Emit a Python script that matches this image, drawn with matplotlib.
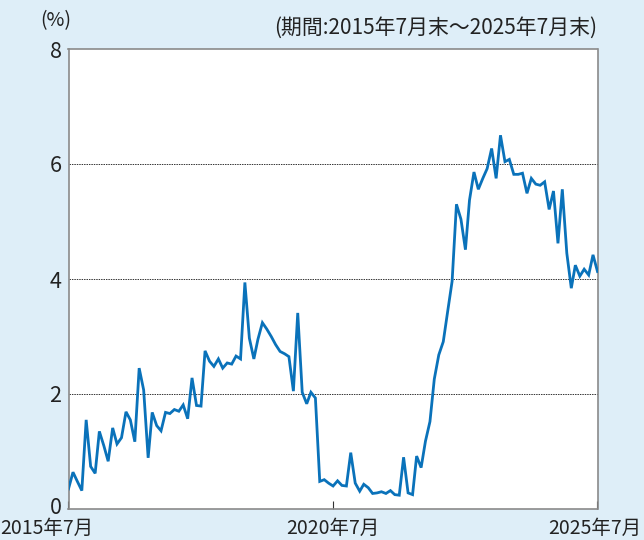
import matplotlib
matplotlib.use("Agg")
import matplotlib.pyplot as plt
import matplotlib.transforms as mtransforms
import pandas as pd

plt.rcParams['font.family'] = ['Noto Sans CJK JP', 'DejaVu Sans']

# Monthly values, 2015-07 .. 2025-07 (%)
values = [
    0.35, 0.64, 0.48, 0.32, 1.55, 0.74, 0.62, 1.35, 1.10, 0.83,
    1.41, 1.13, 1.24, 1.69, 1.55, 1.17, 2.45, 2.07, 0.89, 1.68,
    1.45, 1.36, 1.68, 1.66, 1.73, 1.70, 1.81, 1.57, 2.28, 1.80,
    1.79, 2.75, 2.57, 2.48, 2.61, 2.45, 2.54, 2.52, 2.66, 2.61,
    3.94, 2.97, 2.61, 2.95, 3.24, 3.13, 3.00, 2.86, 2.74, 2.70,
    2.65, 2.05, 3.41, 2.03, 1.83, 2.03, 1.93, 0.48, 0.51, 0.45,
    0.40, 0.49, 0.41, 0.40, 0.98, 0.45, 0.31, 0.43, 0.37, 0.27,
    0.28, 0.30, 0.27, 0.32, 0.25, 0.24, 0.90, 0.28, 0.25, 0.92,
    0.72, 1.18, 1.52, 2.26, 2.68, 2.91, 3.43, 3.96, 5.30, 5.04,
    4.51, 5.37, 5.86, 5.56, 5.75, 5.92, 6.27, 5.75, 6.50, 6.04,
    6.08, 5.82, 5.82, 5.84, 5.49, 5.75, 5.65, 5.63, 5.69, 5.21,
    5.53, 4.62, 5.56, 4.45, 3.84, 4.24, 4.05, 4.17, 4.07, 4.42,
    4.13,
]
dates = pd.date_range("2015-07-31", periods=len(values), freq="ME")

xtick_dates = [pd.Timestamp("2015-07-31"), pd.Timestamp("2020-07-31"), pd.Timestamp("2025-07-31")]
xtick_labels = ["2015年7月", "2020年7月", "2025年7月"]
yticks = [0, 2, 4, 6, 8]
title_note = "(期間:2015年7月末～2025年7月末)"
unit_label = "(%)"

bg = "#deeef8"
line_color = "#0a72ba"
text_color = "#222222"

fig = plt.figure(figsize=(6.44, 5.40), dpi=100, facecolor=bg)
ax = fig.add_axes([68.5 / 644, 31 / 540, 529 / 644, 460 / 540])
ax.set_facecolor("white")

ax.plot(dates, values, color=line_color, linewidth=2.0, solid_joinstyle="miter", zorder=3)

ax.set_xlim(dates[0], dates[-1])
ax.set_ylim(0, 8)
ax.set_yticks(yticks)
ax.set_yticklabels([str(v) for v in yticks], fontsize=15.5, color=text_color)
for y in [2, 4, 6]:
    ax.axhline(y, color="#333333", linewidth=0.7, linestyle=(0, (1.5, 1.0)), zorder=1)

ax.set_xticks(xtick_dates)
ax.set_xticklabels(xtick_labels, fontsize=14, color=text_color)
ax.tick_params(axis="x", direction="in", length=6, width=0.8, color="#333333", pad=6.5)
ax.tick_params(axis="y", length=0, pad=5)

# first label: left-aligned at the figure edge; last label right-aligned at the edge
labels = ax.get_xticklabels()
labels[0].set_horizontalalignment("left")
labels[0].set_transform(labels[0].get_transform() + mtransforms.ScaledTranslation(-68.5 / 100, 0, fig.dpi_scale_trans))
labels[-1].set_horizontalalignment("right")
labels[-1].set_transform(labels[-1].get_transform() + mtransforms.ScaledTranslation(44 / 100, 0, fig.dpi_scale_trans))

# nudge the "0" label up slightly
ylabs = ax.get_yticklabels()
ylabs[0].set_transform(ylabs[0].get_transform() + mtransforms.ScaledTranslation(0, 3 / 100, fig.dpi_scale_trans))

for s in ax.spines.values():
    s.set_color("#8a8a8a")
    s.set_linewidth(1.2)

fig.text(597 / 644, 1 - 28 / 540, title_note, ha="right", va="center", fontsize=15, color=text_color)
fig.text(55.5 / 644, 1 - 21 / 540, unit_label, ha="center", va="center", fontsize=14, color=text_color)

fig.savefig("out.png", dpi=100, facecolor=bg)
